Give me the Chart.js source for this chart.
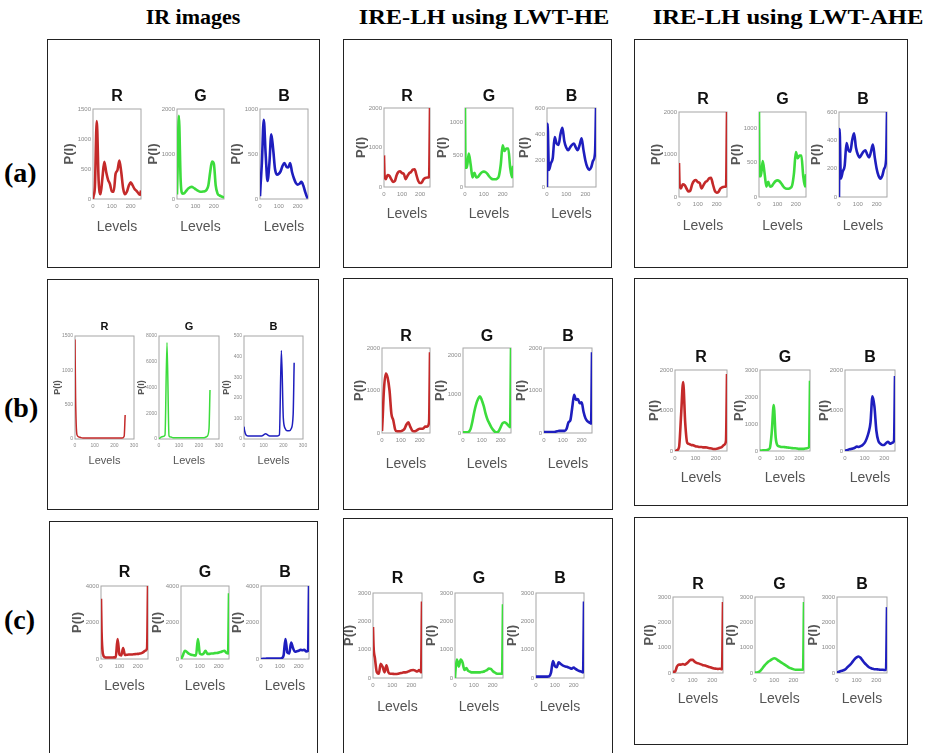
<!DOCTYPE html>
<html>
<head>
<meta charset="utf-8">
<script src="https://cdn.jsdelivr.net/npm/chart.js@4.4.0/dist/chart.umd.min.js"></script>
<style>
  body { margin: 0; background: #fff; width: 937px; height: 753px; overflow: hidden; position: relative; }
  .box { position: absolute; border: 1px solid #222; box-sizing: border-box; background: #fff; }
  .hdr { position: absolute; top: 4px; width: 320px; font: bold 22px "Liberation Serif", "Times New Roman", serif; text-align: center; white-space: nowrap; transform-origin: 50% 50%; }
  .row { position: absolute; left: 4px; font: bold 28px "Liberation Serif", "Times New Roman", serif; }
  canvas { position: absolute; }
</style>
</head>
<body>
<div class="hdr" style="left:33px">IR images</div>
<div class="hdr" style="left:324px;transform:scaleX(1.11)">IRE-LH using LWT-HE</div>
<div class="hdr" style="left:628px;transform:scaleX(1.12)">IRE-LH using LWT-AHE</div>
<div class="row" style="top:157px">(a)</div>
<div class="row" style="top:392px">(b)</div>
<div class="row" style="top:604px">(c)</div>

<script>
// grey levels where the histograms are sampled
const levels = [0, 3, 10, 20, 30, 40, 50, 60, 70, 80, 90, 100, 110, 120, 130, 140, 150, 160, 170, 180, 190, 200, 210, 220, 230, 240, 250, 255];

// (a) IR image
const aIrR = [0, 50, 200, 1300, 300, 80, 350, 620, 450, 320, 250, 130, 120, 420, 480, 640, 450, 180, 80, 120, 220, 280, 230, 170, 140, 100, 70, 140];
const aIrG = [100, 600, 1850, 400, 120, 130, 180, 230, 260, 270, 250, 220, 190, 170, 160, 165, 170, 200, 300, 600, 830, 780, 300, 120, 80, 60, 40, 30];
const aIrB = [30, 150, 400, 880, 500, 200, 400, 720, 550, 330, 270, 280, 310, 370, 400, 360, 350, 400, 300, 230, 180, 160, 170, 190, 150, 80, 20, 10];
// (a) LWT-HE / LWT-AHE
const aHeR = [800, 300, 200, 300, 280, 200, 130, 150, 300, 380, 400, 350, 330, 200, 280, 350, 380, 440, 450, 300, 150, 100, 120, 200, 230, 240, 250, 2000];
const aHeG = [1230, 300, 300, 520, 350, 150, 220, 150, 160, 200, 230, 240, 230, 200, 160, 130, 120, 120, 130, 170, 350, 650, 560, 600, 600, 300, 150, 330];
const aHeB = [0, 480, 130, 180, 220, 380, 330, 320, 400, 450, 350, 300, 280, 300, 320, 330, 300, 280, 320, 370, 280, 200, 150, 130, 150, 200, 260, 600];

// (b)
const bIrR = [1450, 600, 60, 30, 20, 15, 15, 15, 15, 15, 15, 15, 15, 15, 15, 15, 15, 15, 15, 15, 15, 15, 15, 15, 15, 15, 40, 350];
const bIrG = [0, 50, 150, 200, 300, 7500, 250, 150, 100, 100, 100, 100, 100, 100, 100, 100, 100, 100, 100, 100, 100, 100, 100, 100, 120, 200, 800, 3800];
const bIrB = [60, 40, 20, 15, 15, 15, 15, 15, 15, 15, 15, 20, 25, 20, 15, 15, 15, 15, 15, 20, 430, 100, 50, 40, 40, 50, 120, 370];
const bHeR = [50, 300, 1000, 1400, 1300, 1000, 450, 300, 80, 40, 40, 40, 60, 100, 200, 250, 150, 60, 40, 50, 80, 100, 100, 110, 150, 150, 250, 1900];
const bHeG = [20, 20, 20, 20, 30, 100, 300, 550, 750, 880, 950, 850, 700, 500, 350, 250, 150, 80, 30, 20, 50, 150, 250, 280, 250, 200, 150, 2200];
const bHeB = [20, 20, 20, 20, 20, 20, 20, 30, 40, 50, 50, 50, 50, 100, 250, 300, 600, 900, 780, 800, 700, 720, 500, 350, 280, 250, 220, 1900];
const bAheR = [0, 0, 20, 100, 900, 1700, 700, 200, 170, 150, 140, 120, 110, 100, 100, 90, 90, 80, 70, 60, 50, 50, 60, 80, 100, 150, 250, 1900];
const bAheG = [20, 20, 20, 30, 30, 50, 100, 700, 1700, 500, 200, 170, 150, 150, 140, 130, 120, 110, 100, 100, 90, 80, 80, 80, 90, 100, 150, 2600];
const bAheB = [0, 10, 20, 40, 50, 60, 80, 110, 100, 120, 150, 200, 300, 450, 700, 1350, 1100, 500, 250, 180, 150, 150, 200, 230, 180, 200, 250, 1850];

// (c)
const cIrR = [3300, 1500, 300, 100, 80, 80, 80, 80, 90, 100, 1100, 250, 200, 600, 220, 230, 250, 250, 250, 260, 270, 280, 300, 320, 380, 450, 600, 4000];
const cIrG = [0, 50, 200, 450, 400, 300, 250, 220, 200, 200, 1100, 300, 250, 300, 450, 280, 280, 300, 300, 320, 330, 350, 380, 420, 450, 350, 300, 3600];
const cIrB = [0, 0, 10, 15, 20, 20, 20, 25, 25, 30, 30, 30, 50, 200, 1100, 350, 300, 900, 600, 400, 420, 450, 500, 480, 500, 420, 450, 4000];
const cHeR = [1800, 1100, 700, 200, 150, 500, 400, 200, 450, 200, 150, 150, 140, 140, 150, 170, 180, 200, 200, 220, 250, 270, 280, 260, 230, 280, 200, 2700];
const cHeG = [0, 300, 650, 400, 650, 550, 280, 350, 250, 220, 200, 200, 200, 200, 200, 210, 220, 250, 280, 330, 320, 250, 200, 160, 150, 150, 150, 2600];
const cHeB = [50, 50, 50, 50, 50, 50, 50, 50, 60, 200, 600, 420, 380, 550, 500, 450, 420, 400, 380, 350, 330, 370, 320, 280, 250, 230, 200, 2700];
const cAheR = [50, 50, 50, 250, 330, 330, 350, 330, 380, 450, 520, 520, 450, 400, 380, 350, 320, 300, 280, 250, 230, 200, 180, 170, 160, 170, 150, 2800];
const cAheG = [20, 20, 20, 40, 100, 200, 300, 380, 450, 500, 550, 580, 560, 500, 450, 400, 350, 300, 250, 200, 180, 150, 130, 130, 130, 130, 130, 2800];
const cAheB = [30, 30, 50, 80, 100, 130, 200, 280, 350, 450, 550, 620, 650, 600, 500, 400, 320, 250, 200, 170, 150, 150, 140, 130, 130, 120, 130, 2600];

const channelNames = ["R", "G", "B"];
const channelColors = ["#c42a2a", "#3cdc3c", "#1e1ebe"];

const big = { t: 16, y: 13, x: 14, tick: 6, lw: 2.6 };
const small = { t: 11, y: 9, x: 11, tick: 5, lw: 1.5 };

// one entry per boxed panel
const panels = [
  { box: [47, 39, 320, 268], top: 109, bottom: 199, cols: [[93, 141], [177, 224], [260, 308]], titleY: 97, levelsY: 228, pOff: 23, st: big,
    series: [aIrR, aIrG, aIrB], max: [1500, 2000, 1000], step: [500, 1000, 500], xMax: 255 },
  { box: [343, 39, 612, 268], top: 108, bottom: 187, cols: [[384, 430], [465, 513], [547, 596]], titleY: 97, levelsY: 215, pOff: 22, st: big,
    series: [aHeR, aHeG, aHeB], max: [2000, 1230, 600], step: [1000, 500, 200], xMax: 255 },
  { box: [634, 39, 908, 268], top: 112, bottom: 197, cols: [[679, 727], [759, 806], [839, 887]], titleY: 100, levelsY: 227, pOff: 22, st: big,
    series: [aHeR, aHeG, aHeB], max: [2000, 1230, 600], step: [1000, 500, 200], xMax: 255 },
  { box: [47, 279, 319, 510], top: 336, bottom: 439, cols: [[75, 134], [159, 219], [244, 303]], titleY: 327, levelsY: 461, pOff: 18, st: small,
    series: [bIrR, bIrG, bIrB], max: [1500, 8000, 500], step: [500, 2000, 100], xMax: 300 },
  { box: [343, 278, 613, 510], top: 348, bottom: 433, cols: [[382, 430], [463, 511], [544, 592]], titleY: 337, levelsY: 465, pOff: 22, st: big,
    series: [bHeR, bHeG, bHeB], max: [2000, 2200, 2000], step: [1000, 1000, 1000], xMax: 255 },
  { box: [634, 278, 908, 506], top: 370, bottom: 451, cols: [[675, 727], [760, 810], [845, 895]], titleY: 358, levelsY: 479, pOff: 20, st: big,
    series: [bAheR, bAheG, bAheB], max: [2000, 3000, 2000], step: [1000, 1000, 1000], xMax: 255 },
  { box: [49, 521, 318, 770], top: 586, bottom: 659, cols: [[101, 148], [181, 229], [261, 309]], titleY: 573, levelsY: 687, pOff: 23, st: big,
    series: [cIrR, cIrG, cIrB], max: [4000, 4000, 4000], step: [2000, 2000, 2000], xMax: 255 },
  { box: [343, 518, 613, 770], top: 593, bottom: 678, cols: [[373, 422], [455, 503], [536, 584]], titleY: 579, levelsY: 708, pOff: 23, st: big,
    series: [cHeR, cHeG, cHeB], max: [3000, 3000, 3000], step: [1000, 1000, 1000], xMax: 255 },
  { box: [634, 517, 908, 745], top: 597, bottom: 673, cols: [[673, 723], [755, 804], [837, 887]], titleY: 585, levelsY: 700, pOff: 23, st: big,
    series: [cAheR, cAheG, cAheB], max: [3000, 3000, 3000], step: [1000, 1000, 1000], xMax: 255 },
];

const family = "'Liberation Sans Narrow', 'Liberation Sans', Arial, sans-serif";

// grey axes box like matlab
const frame = {
  id: "frame",
  beforeDatasetsDraw(chart) {
    const a = chart.chartArea, ctx = chart.ctx;
    ctx.save();
    ctx.strokeStyle = "#a6a6a6";
    ctx.lineWidth = 1;
    ctx.strokeRect(a.left, a.top, a.width, a.height);
    ctx.restore();
  }
};

function noPad(scale) {
  scale.paddingLeft = 0; scale.paddingRight = 0; scale.paddingTop = 0; scale.paddingBottom = 0;
}

function tickList(max, step) {
  const t = [];
  for (let v = 0; v <= max + 1e-9; v += step) t.push({ value: v });
  return t;
}

panels.forEach(p => {
  const b = document.createElement("div");
  b.className = "box";
  b.style.left = p.box[0] + "px";
  b.style.top = p.box[1] + "px";
  b.style.width = (p.box[2] - p.box[0]) + "px";
  b.style.height = (p.box[3] - p.box[1]) + "px";
  document.body.appendChild(b);

  const st = p.st;
  for (let k = 0; k < 3; k++) {
    const [l, r] = p.cols[k];
    const cl = Math.round(l - p.pOff - 0.6 * st.y);
    const yW = l - cl;
    const ct = Math.round(p.titleY - 0.6 * st.t);
    const titlePad = Math.max(0, p.top - ct - 1.2 * st.t);
    const xH = Math.round(p.levelsY + 0.6 * st.x) - p.bottom;
    const padR = 10;
    const cw = r + padR - cl;
    const ch = p.bottom + xH - ct;

    const cv = document.createElement("canvas");
    cv.width = cw; cv.height = ch;
    cv.style.left = cl + "px"; cv.style.top = ct + "px";
    document.body.appendChild(cv);

    const vals = p.series[k];
    const yMax = p.max[k], yStep = p.step[k], xMax = p.xMax;
    new Chart(cv, {
      type: "line",
      data: {
        datasets: [{
          data: levels.map((x, i) => ({ x: x, y: vals[i] })),
          borderColor: channelColors[k],
          borderWidth: st.lw,
          pointRadius: 0,
          cubicInterpolationMode: "monotone",
          fill: false
        }]
      },
      options: {
        responsive: false,
        animation: false,
        events: [],
        layout: { autoPadding: false, padding: { left: 0, top: 0, right: padR, bottom: 0 } },
        plugins: {
          legend: { display: false },
          tooltip: { enabled: false },
          title: {
            display: true, text: channelNames[k], fullSize: false, color: "#111",
            font: { family: family, size: st.t, weight: "bold", lineHeight: 1.2 },
            padding: { top: 0, bottom: titlePad }
          }
        },
        scales: {
          x: {
            type: "linear", min: 0, max: xMax,
            grid: { display: false, drawTicks: false }, border: { display: false },
            afterBuildTicks(s) { s.ticks = tickList(xMax, 100); },
            ticks: { maxRotation: 0, autoSkip: false, padding: 4, color: "#8a8a8a", font: { family: family, size: st.tick }, callback: v => String(v) },
            title: { display: true, text: "Levels", color: "#555", padding: 0, font: { family: family, size: st.x, lineHeight: 1.2 } },
            afterFit(s) { s.height = xH; noPad(s); }
          },
          y: {
            min: 0, max: yMax,
            grid: { display: false, drawTicks: false }, border: { display: false },
            afterBuildTicks(s) { s.ticks = tickList(yMax, yStep); },
            ticks: { autoSkip: false, padding: 2, color: "#8a8a8a", font: { family: family, size: st.tick }, callback: v => String(v) },
            title: { display: true, text: "P(I)", color: "#555", padding: 0, font: { family: family, size: st.y, weight: "bold", lineHeight: 1.2 } },
            afterFit(s) { s.width = yW; noPad(s); }
          }
        }
      },
      plugins: [frame]
    });
  }
});
</script>
</body>
</html>
